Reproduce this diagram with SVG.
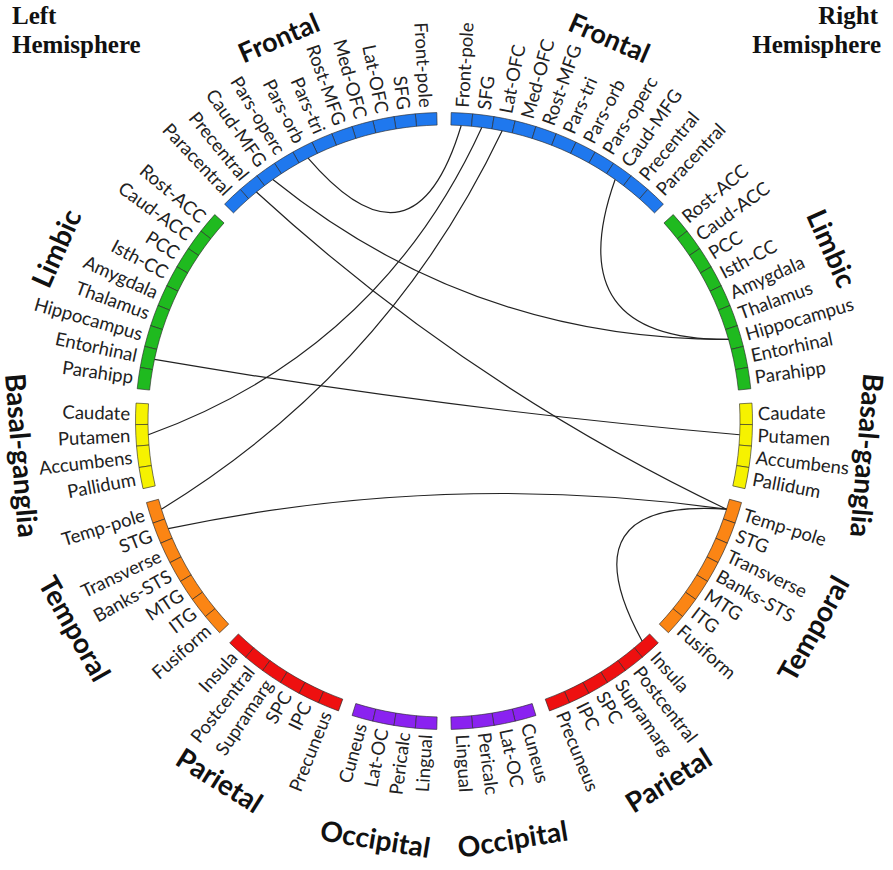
<svg xmlns="http://www.w3.org/2000/svg" xmlns:xlink="http://www.w3.org/1999/xlink" width="893" height="870" viewBox="0 0 893 870">
<style>
.seg{stroke:#2a2a2a;stroke-width:0.6}
.fr{fill:#1f78ee}.li{fill:#1fba1f}.ba{fill:#f6f200}.te{fill:#fb8514}.pa{fill:#ee1010}.oc{fill:#8a22f0}
.lab{font-family:Lato,"Open Sans","DejaVu Sans",sans-serif;font-size:18.5px;fill:#222}
.lft{text-anchor:end}
.lobe{font-family:Lato,"DejaVu Sans",sans-serif;font-size:28px;font-weight:bold;fill:#111;text-anchor:middle}
.lobe.sm{font-size:27px}
.hemi{font-family:"Liberation Serif","Times New Roman",serif;font-size:25px;font-weight:bold;fill:#111}
.con path{fill:none;stroke:#222;stroke-width:1.2}
</style>
<defs>
<path id="seg" d="M433.234,112.688 A308.5,308.5 0 0 1 454.766,112.688 L454.330,125.180 A296,296 0 0 0 433.670,125.180 Z"/>
</defs>
<rect width="893" height="870" fill="#fff"/>
<g id="hemispheres">
<text class="hemi" x="12" y="24">Left</text>
<text class="hemi" x="12" y="53">Hemisphere</text>
<text class="hemi" x="878" y="24" text-anchor="end">Right</text>
<text class="hemi" x="881" y="53" text-anchor="end">Hemisphere</text>
</g>
<g id="lobes">
<text class="lobe sm" x="444" y="4" dy="0.35em" transform="rotate(23.333 444 421)">Frontal</text>
<text class="lobe" x="444" y="-3" dy="0.35em" transform="rotate(66 444 421)">Limbic</text>
<text class="lobe" x="444" y="-3" dy="0.35em" transform="rotate(94.667 444 421)">Basal-ganglia</text>
<text class="lobe" x="444" y="845" dy="0.35em" transform="rotate(-60.667 444 421)">Temporal</text>
<text class="lobe" x="444" y="845" dy="0.35em" transform="rotate(-32 444 421)">Parietal</text>
<text class="lobe" x="444" y="845" dy="0.35em" transform="rotate(-9.333 444 421)">Occipital</text>
<text class="lobe sm" x="444" y="4" dy="0.35em" transform="rotate(-23.333 444 421)">Frontal</text>
<text class="lobe" x="444" y="-3" dy="0.35em" transform="rotate(-66 444 421)">Limbic</text>
<text class="lobe" x="444" y="845" dy="0.35em" transform="rotate(85.333 444 421)">Basal-ganglia</text>
<text class="lobe" x="444" y="845" dy="0.35em" transform="rotate(60.667 444 421)">Temporal</text>
<text class="lobe" x="444" y="845" dy="0.35em" transform="rotate(32 444 421)">Parietal</text>
<text class="lobe" x="444" y="845" dy="0.35em" transform="rotate(9.333 444 421)">Occipital</text>
</g>
<g id="right-hemisphere">
<g id="R-Front-pole"><use href="#seg" class="seg fr" transform="rotate(3.333 444 421)"/><text class="lab" x="758" y="421" dy="0.35em" transform="rotate(-86.667 444 421)">Front-pole</text></g>
<g id="R-SFG"><use href="#seg" class="seg fr" transform="rotate(7.333 444 421)"/><text class="lab" x="758" y="421" dy="0.35em" transform="rotate(-82.667 444 421)">SFG</text></g>
<g id="R-Lat-OFC"><use href="#seg" class="seg fr" transform="rotate(11.333 444 421)"/><text class="lab" x="758" y="421" dy="0.35em" transform="rotate(-78.667 444 421)">Lat-OFC</text></g>
<g id="R-Med-OFC"><use href="#seg" class="seg fr" transform="rotate(15.333 444 421)"/><text class="lab" x="758" y="421" dy="0.35em" transform="rotate(-74.667 444 421)">Med-OFC</text></g>
<g id="R-Rost-MFG"><use href="#seg" class="seg fr" transform="rotate(19.333 444 421)"/><text class="lab" x="758" y="421" dy="0.35em" transform="rotate(-70.667 444 421)">Rost-MFG</text></g>
<g id="R-Pars-tri"><use href="#seg" class="seg fr" transform="rotate(23.333 444 421)"/><text class="lab" x="758" y="421" dy="0.35em" transform="rotate(-66.667 444 421)">Pars-tri</text></g>
<g id="R-Pars-orb"><use href="#seg" class="seg fr" transform="rotate(27.333 444 421)"/><text class="lab" x="758" y="421" dy="0.35em" transform="rotate(-62.667 444 421)">Pars-orb</text></g>
<g id="R-Pars-operc"><use href="#seg" class="seg fr" transform="rotate(31.333 444 421)"/><text class="lab" x="758" y="421" dy="0.35em" transform="rotate(-58.667 444 421)">Pars-operc</text></g>
<g id="R-Caud-MFG"><use href="#seg" class="seg fr" transform="rotate(35.333 444 421)"/><text class="lab" x="758" y="421" dy="0.35em" transform="rotate(-54.667 444 421)">Caud-MFG</text></g>
<g id="R-Precentral"><use href="#seg" class="seg fr" transform="rotate(39.333 444 421)"/><text class="lab" x="758" y="421" dy="0.35em" transform="rotate(-50.667 444 421)">Precentral</text></g>
<g id="R-Paracentral"><use href="#seg" class="seg fr" transform="rotate(43.333 444 421)"/><text class="lab" x="758" y="421" dy="0.35em" transform="rotate(-46.667 444 421)">Paracentral</text></g>
<g id="R-Rost-ACC"><use href="#seg" class="seg li" transform="rotate(50 444 421)"/><text class="lab" x="758" y="421" dy="0.35em" transform="rotate(-40 444 421)">Rost-ACC</text></g>
<g id="R-Caud-ACC"><use href="#seg" class="seg li" transform="rotate(54 444 421)"/><text class="lab" x="758" y="421" dy="0.35em" transform="rotate(-36 444 421)">Caud-ACC</text></g>
<g id="R-PCC"><use href="#seg" class="seg li" transform="rotate(58 444 421)"/><text class="lab" x="758" y="421" dy="0.35em" transform="rotate(-32 444 421)">PCC</text></g>
<g id="R-Isth-CC"><use href="#seg" class="seg li" transform="rotate(62 444 421)"/><text class="lab" x="758" y="421" dy="0.35em" transform="rotate(-28 444 421)">Isth-CC</text></g>
<g id="R-Amygdala"><use href="#seg" class="seg li" transform="rotate(66 444 421)"/><text class="lab" x="758" y="421" dy="0.35em" transform="rotate(-24 444 421)">Amygdala</text></g>
<g id="R-Thalamus"><use href="#seg" class="seg li" transform="rotate(70 444 421)"/><text class="lab" x="758" y="421" dy="0.35em" transform="rotate(-20 444 421)">Thalamus</text></g>
<g id="R-Hippocampus"><use href="#seg" class="seg li" transform="rotate(74 444 421)"/><text class="lab" x="758" y="421" dy="0.35em" transform="rotate(-16 444 421)">Hippocampus</text></g>
<g id="R-Entorhinal"><use href="#seg" class="seg li" transform="rotate(78 444 421)"/><text class="lab" x="758" y="421" dy="0.35em" transform="rotate(-12 444 421)">Entorhinal</text></g>
<g id="R-Parahipp"><use href="#seg" class="seg li" transform="rotate(82 444 421)"/><text class="lab" x="758" y="421" dy="0.35em" transform="rotate(-8 444 421)">Parahipp</text></g>
<g id="R-Caudate"><use href="#seg" class="seg ba" transform="rotate(88.667 444 421)"/><text class="lab" x="758" y="421" dy="0.35em" transform="rotate(-1.333 444 421)">Caudate</text></g>
<g id="R-Putamen"><use href="#seg" class="seg ba" transform="rotate(92.667 444 421)"/><text class="lab" x="758" y="421" dy="0.35em" transform="rotate(2.667 444 421)">Putamen</text></g>
<g id="R-Accumbens"><use href="#seg" class="seg ba" transform="rotate(96.667 444 421)"/><text class="lab" x="758" y="421" dy="0.35em" transform="rotate(6.667 444 421)">Accumbens</text></g>
<g id="R-Pallidum"><use href="#seg" class="seg ba" transform="rotate(100.667 444 421)"/><text class="lab" x="758" y="421" dy="0.35em" transform="rotate(10.667 444 421)">Pallidum</text></g>
<g id="R-Temp-pole"><use href="#seg" class="seg te" transform="rotate(107.333 444 421)"/><text class="lab" x="758" y="421" dy="0.35em" transform="rotate(17.333 444 421)">Temp-pole</text></g>
<g id="R-STG"><use href="#seg" class="seg te" transform="rotate(111.333 444 421)"/><text class="lab" x="758" y="421" dy="0.35em" transform="rotate(21.333 444 421)">STG</text></g>
<g id="R-Transverse"><use href="#seg" class="seg te" transform="rotate(115.333 444 421)"/><text class="lab" x="758" y="421" dy="0.35em" transform="rotate(25.333 444 421)">Transverse</text></g>
<g id="R-Banks-STS"><use href="#seg" class="seg te" transform="rotate(119.333 444 421)"/><text class="lab" x="758" y="421" dy="0.35em" transform="rotate(29.333 444 421)">Banks-STS</text></g>
<g id="R-MTG"><use href="#seg" class="seg te" transform="rotate(123.333 444 421)"/><text class="lab" x="758" y="421" dy="0.35em" transform="rotate(33.333 444 421)">MTG</text></g>
<g id="R-ITG"><use href="#seg" class="seg te" transform="rotate(127.333 444 421)"/><text class="lab" x="758" y="421" dy="0.35em" transform="rotate(37.333 444 421)">ITG</text></g>
<g id="R-Fusiform"><use href="#seg" class="seg te" transform="rotate(131.333 444 421)"/><text class="lab" x="758" y="421" dy="0.35em" transform="rotate(41.333 444 421)">Fusiform</text></g>
<g id="R-Insula"><use href="#seg" class="seg pa" transform="rotate(138 444 421)"/><text class="lab" x="758" y="421" dy="0.35em" transform="rotate(48 444 421)">Insula</text></g>
<g id="R-Postcentral"><use href="#seg" class="seg pa" transform="rotate(142 444 421)"/><text class="lab" x="758" y="421" dy="0.35em" transform="rotate(52 444 421)">Postcentral</text></g>
<g id="R-Supramarg"><use href="#seg" class="seg pa" transform="rotate(146 444 421)"/><text class="lab" x="758" y="421" dy="0.35em" transform="rotate(56 444 421)">Supramarg</text></g>
<g id="R-SPC"><use href="#seg" class="seg pa" transform="rotate(150 444 421)"/><text class="lab" x="758" y="421" dy="0.35em" transform="rotate(60 444 421)">SPC</text></g>
<g id="R-IPC"><use href="#seg" class="seg pa" transform="rotate(154 444 421)"/><text class="lab" x="758" y="421" dy="0.35em" transform="rotate(64 444 421)">IPC</text></g>
<g id="R-Precuneus"><use href="#seg" class="seg pa" transform="rotate(158 444 421)"/><text class="lab" x="758" y="421" dy="0.35em" transform="rotate(68 444 421)">Precuneus</text></g>
<g id="R-Cuneus"><use href="#seg" class="seg oc" transform="rotate(164.667 444 421)"/><text class="lab" x="758" y="421" dy="0.35em" transform="rotate(74.667 444 421)">Cuneus</text></g>
<g id="R-Lat-OC"><use href="#seg" class="seg oc" transform="rotate(168.667 444 421)"/><text class="lab" x="758" y="421" dy="0.35em" transform="rotate(78.667 444 421)">Lat-OC</text></g>
<g id="R-Pericalc"><use href="#seg" class="seg oc" transform="rotate(172.667 444 421)"/><text class="lab" x="758" y="421" dy="0.35em" transform="rotate(82.667 444 421)">Pericalc</text></g>
<g id="R-Lingual"><use href="#seg" class="seg oc" transform="rotate(176.667 444 421)"/><text class="lab" x="758" y="421" dy="0.35em" transform="rotate(86.667 444 421)">Lingual</text></g>
</g>
<g id="left-hemisphere">
<g id="L-Front-pole"><use href="#seg" class="seg fr" transform="rotate(-3.333 444 421)"/><text class="lab lft" x="130" y="421" dy="0.35em" transform="rotate(86.667 444 421)">Front-pole</text></g>
<g id="L-SFG"><use href="#seg" class="seg fr" transform="rotate(-7.333 444 421)"/><text class="lab lft" x="130" y="421" dy="0.35em" transform="rotate(82.667 444 421)">SFG</text></g>
<g id="L-Lat-OFC"><use href="#seg" class="seg fr" transform="rotate(-11.333 444 421)"/><text class="lab lft" x="130" y="421" dy="0.35em" transform="rotate(78.667 444 421)">Lat-OFC</text></g>
<g id="L-Med-OFC"><use href="#seg" class="seg fr" transform="rotate(-15.333 444 421)"/><text class="lab lft" x="130" y="421" dy="0.35em" transform="rotate(74.667 444 421)">Med-OFC</text></g>
<g id="L-Rost-MFG"><use href="#seg" class="seg fr" transform="rotate(-19.333 444 421)"/><text class="lab lft" x="130" y="421" dy="0.35em" transform="rotate(70.667 444 421)">Rost-MFG</text></g>
<g id="L-Pars-tri"><use href="#seg" class="seg fr" transform="rotate(-23.333 444 421)"/><text class="lab lft" x="130" y="421" dy="0.35em" transform="rotate(66.667 444 421)">Pars-tri</text></g>
<g id="L-Pars-orb"><use href="#seg" class="seg fr" transform="rotate(-27.333 444 421)"/><text class="lab lft" x="130" y="421" dy="0.35em" transform="rotate(62.667 444 421)">Pars-orb</text></g>
<g id="L-Pars-operc"><use href="#seg" class="seg fr" transform="rotate(-31.333 444 421)"/><text class="lab lft" x="130" y="421" dy="0.35em" transform="rotate(58.667 444 421)">Pars-operc</text></g>
<g id="L-Caud-MFG"><use href="#seg" class="seg fr" transform="rotate(-35.333 444 421)"/><text class="lab lft" x="130" y="421" dy="0.35em" transform="rotate(54.667 444 421)">Caud-MFG</text></g>
<g id="L-Precentral"><use href="#seg" class="seg fr" transform="rotate(-39.333 444 421)"/><text class="lab lft" x="130" y="421" dy="0.35em" transform="rotate(50.667 444 421)">Precentral</text></g>
<g id="L-Paracentral"><use href="#seg" class="seg fr" transform="rotate(-43.333 444 421)"/><text class="lab lft" x="130" y="421" dy="0.35em" transform="rotate(46.667 444 421)">Paracentral</text></g>
<g id="L-Rost-ACC"><use href="#seg" class="seg li" transform="rotate(-50 444 421)"/><text class="lab lft" x="130" y="421" dy="0.35em" transform="rotate(40 444 421)">Rost-ACC</text></g>
<g id="L-Caud-ACC"><use href="#seg" class="seg li" transform="rotate(-54 444 421)"/><text class="lab lft" x="130" y="421" dy="0.35em" transform="rotate(36 444 421)">Caud-ACC</text></g>
<g id="L-PCC"><use href="#seg" class="seg li" transform="rotate(-58 444 421)"/><text class="lab lft" x="130" y="421" dy="0.35em" transform="rotate(32 444 421)">PCC</text></g>
<g id="L-Isth-CC"><use href="#seg" class="seg li" transform="rotate(-62 444 421)"/><text class="lab lft" x="130" y="421" dy="0.35em" transform="rotate(28 444 421)">Isth-CC</text></g>
<g id="L-Amygdala"><use href="#seg" class="seg li" transform="rotate(-66 444 421)"/><text class="lab lft" x="130" y="421" dy="0.35em" transform="rotate(24 444 421)">Amygdala</text></g>
<g id="L-Thalamus"><use href="#seg" class="seg li" transform="rotate(-70 444 421)"/><text class="lab lft" x="130" y="421" dy="0.35em" transform="rotate(20 444 421)">Thalamus</text></g>
<g id="L-Hippocampus"><use href="#seg" class="seg li" transform="rotate(-74 444 421)"/><text class="lab lft" x="130" y="421" dy="0.35em" transform="rotate(16 444 421)">Hippocampus</text></g>
<g id="L-Entorhinal"><use href="#seg" class="seg li" transform="rotate(-78 444 421)"/><text class="lab lft" x="130" y="421" dy="0.35em" transform="rotate(12 444 421)">Entorhinal</text></g>
<g id="L-Parahipp"><use href="#seg" class="seg li" transform="rotate(-82 444 421)"/><text class="lab lft" x="130" y="421" dy="0.35em" transform="rotate(8 444 421)">Parahipp</text></g>
<g id="L-Caudate"><use href="#seg" class="seg ba" transform="rotate(-88.667 444 421)"/><text class="lab lft" x="130" y="421" dy="0.35em" transform="rotate(1.333 444 421)">Caudate</text></g>
<g id="L-Putamen"><use href="#seg" class="seg ba" transform="rotate(-92.667 444 421)"/><text class="lab lft" x="130" y="421" dy="0.35em" transform="rotate(-2.667 444 421)">Putamen</text></g>
<g id="L-Accumbens"><use href="#seg" class="seg ba" transform="rotate(-96.667 444 421)"/><text class="lab lft" x="130" y="421" dy="0.35em" transform="rotate(-6.667 444 421)">Accumbens</text></g>
<g id="L-Pallidum"><use href="#seg" class="seg ba" transform="rotate(-100.667 444 421)"/><text class="lab lft" x="130" y="421" dy="0.35em" transform="rotate(-10.667 444 421)">Pallidum</text></g>
<g id="L-Temp-pole"><use href="#seg" class="seg te" transform="rotate(-107.333 444 421)"/><text class="lab lft" x="130" y="421" dy="0.35em" transform="rotate(-17.333 444 421)">Temp-pole</text></g>
<g id="L-STG"><use href="#seg" class="seg te" transform="rotate(-111.333 444 421)"/><text class="lab lft" x="130" y="421" dy="0.35em" transform="rotate(-21.333 444 421)">STG</text></g>
<g id="L-Transverse"><use href="#seg" class="seg te" transform="rotate(-115.333 444 421)"/><text class="lab lft" x="130" y="421" dy="0.35em" transform="rotate(-25.333 444 421)">Transverse</text></g>
<g id="L-Banks-STS"><use href="#seg" class="seg te" transform="rotate(-119.333 444 421)"/><text class="lab lft" x="130" y="421" dy="0.35em" transform="rotate(-29.333 444 421)">Banks-STS</text></g>
<g id="L-MTG"><use href="#seg" class="seg te" transform="rotate(-123.333 444 421)"/><text class="lab lft" x="130" y="421" dy="0.35em" transform="rotate(-33.333 444 421)">MTG</text></g>
<g id="L-ITG"><use href="#seg" class="seg te" transform="rotate(-127.333 444 421)"/><text class="lab lft" x="130" y="421" dy="0.35em" transform="rotate(-37.333 444 421)">ITG</text></g>
<g id="L-Fusiform"><use href="#seg" class="seg te" transform="rotate(-131.333 444 421)"/><text class="lab lft" x="130" y="421" dy="0.35em" transform="rotate(-41.333 444 421)">Fusiform</text></g>
<g id="L-Insula"><use href="#seg" class="seg pa" transform="rotate(-138 444 421)"/><text class="lab lft" x="130" y="421" dy="0.35em" transform="rotate(-48 444 421)">Insula</text></g>
<g id="L-Postcentral"><use href="#seg" class="seg pa" transform="rotate(-142 444 421)"/><text class="lab lft" x="130" y="421" dy="0.35em" transform="rotate(-52 444 421)">Postcentral</text></g>
<g id="L-Supramarg"><use href="#seg" class="seg pa" transform="rotate(-146 444 421)"/><text class="lab lft" x="130" y="421" dy="0.35em" transform="rotate(-56 444 421)">Supramarg</text></g>
<g id="L-SPC"><use href="#seg" class="seg pa" transform="rotate(-150 444 421)"/><text class="lab lft" x="130" y="421" dy="0.35em" transform="rotate(-60 444 421)">SPC</text></g>
<g id="L-IPC"><use href="#seg" class="seg pa" transform="rotate(-154 444 421)"/><text class="lab lft" x="130" y="421" dy="0.35em" transform="rotate(-64 444 421)">IPC</text></g>
<g id="L-Precuneus"><use href="#seg" class="seg pa" transform="rotate(-158 444 421)"/><text class="lab lft" x="130" y="421" dy="0.35em" transform="rotate(-68 444 421)">Precuneus</text></g>
<g id="L-Cuneus"><use href="#seg" class="seg oc" transform="rotate(-164.667 444 421)"/><text class="lab lft" x="130" y="421" dy="0.35em" transform="rotate(-74.667 444 421)">Cuneus</text></g>
<g id="L-Lat-OC"><use href="#seg" class="seg oc" transform="rotate(-168.667 444 421)"/><text class="lab lft" x="130" y="421" dy="0.35em" transform="rotate(-78.667 444 421)">Lat-OC</text></g>
<g id="L-Pericalc"><use href="#seg" class="seg oc" transform="rotate(-172.667 444 421)"/><text class="lab lft" x="130" y="421" dy="0.35em" transform="rotate(-82.667 444 421)">Pericalc</text></g>
<g id="L-Lingual"><use href="#seg" class="seg oc" transform="rotate(-176.667 444 421)"/><text class="lab lft" x="130" y="421" dy="0.35em" transform="rotate(-86.667 444 421)">Lingual</text></g>
</g>
<g id="connectors" class="con">
<path d="M308.09,158.05 Q414.33,281.39 461.21,125.50"/>
<path d="M481.78,127.42 Q379.53,351.05 148.32,434.77"/>
<path d="M502.17,130.77 Q387.90,370.49 161.44,509.19"/>
<path d="M272.84,179.51 Q472.34,340.23 728.53,339.41"/>
<path d="M256.39,192.05 Q467.74,385.81 726.56,509.19"/>
<path d="M615.16,179.51 Q557.92,340.23 728.53,339.41"/>
<path d="M154.47,359.46 Q445.54,409.06 739.68,434.77"/>
<path d="M168.26,528.68 Q445.71,469.97 726.56,509.19"/>
<path d="M726.56,509.19 Q564.16,498.04 642.06,640.97"/>
</g>
</svg>
